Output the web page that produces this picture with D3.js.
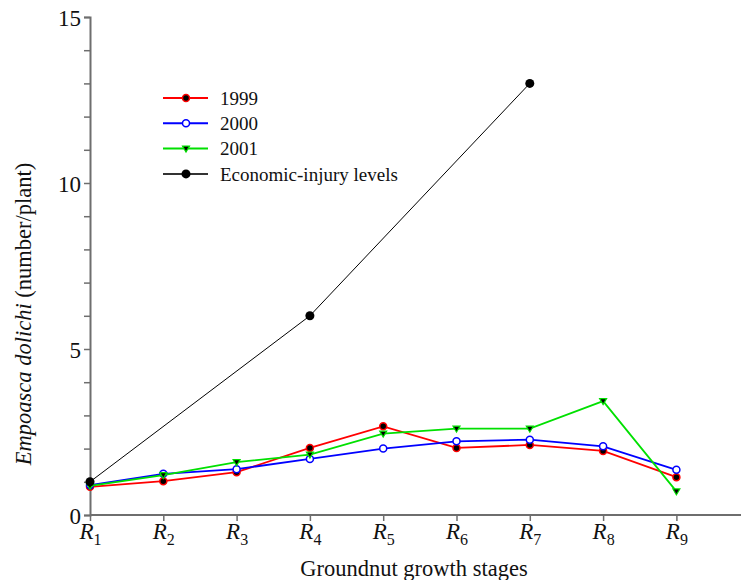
<!DOCTYPE html>
<html>
<head>
<meta charset="utf-8">
<script src="https://cdn.jsdelivr.net/npm/d3@7"></script>
<style>
  body { margin: 0; background: #fff; }
  svg text { font-family: "Liberation Serif", "Times New Roman", serif; fill: #111; }
</style>
</head>
<body>
<svg id="svg-graphic" width="742" height="580"></svg>
<script>
/////////////////////////////////////////////////////////////////////////////////////
// Data
var stages = ["1", "2", "3", "4", "5", "6", "7", "8", "9"];
var y1999 = [0.85, 1.02, 1.29, 2.02, 2.67, 2.02, 2.11, 1.93, 1.14];
var y2000 = [0.90, 1.24, 1.38, 1.69, 2.00, 2.22, 2.27, 2.07, 1.36];
var y2001 = [0.88, 1.20, 1.59, 1.82, 2.45, 2.60, 2.60, 3.43, 0.71];
var eilStages = ["1", "4", "7"];
var eilValues = [1, 6, 13];
var yTickLabels = [0, 5, 10, 15];

/////////////////////////////////////////////////////////////////////////////////////
// Margins
var svg = d3.select("#svg-graphic");
var margin = {left: 90, right: 0, top: 17, bottom: 65};
var w = 742, h = 580;

var xScale = d3.scalePoint()
                .domain(stages.concat(["10"]))
                .range([margin.left, margin.left + 73.3 * 9]);
var yScale = d3.scaleLinear()
                .domain([0, 15])
                .range([h - margin.bottom, margin.top]);

var axisColor = "#6e6e6e";

// y axis
var yAxis = svg.append("g")
   .attr("transform", "translate(" + margin.left + ",0)")
   .call(d3.axisLeft(yScale).tickValues(d3.range(0, 16)).tickSize(6)
          .tickFormat(function(d) { return yTickLabels.indexOf(d) >= 0 ? d : ""; }));
yAxis.select(".domain").attr("stroke", axisColor).attr("stroke-width", 2);
yAxis.selectAll(".tick line").attr("stroke", axisColor).attr("stroke-width", 1.5);
yAxis.selectAll(".tick text").style("font-size", "23px").attr("x", -9).attr("dy", "0.35em");

// x axis
var xAxis = svg.append("g")
   .attr("transform", "translate(0," + yScale(0) + ")")
   .call(d3.axisBottom(xScale).tickValues(stages).tickSize(6).tickFormat(""));
xAxis.select(".domain").attr("stroke", axisColor).attr("stroke-width", 2)
     .attr("d", "M" + margin.left + ",0H" + (w - 1));
xAxis.selectAll(".tick line").attr("stroke", axisColor).attr("stroke-width", 1.5);
var xt = xAxis.selectAll(".tick").append("text")
   .attr("y", 24).attr("text-anchor", "middle").attr("fill", "#111");
xt.append("tspan").style("font-style", "italic").style("font-size", "23px").text("R");
xt.append("tspan").style("font-size", "16px").attr("dy", 6).text(function(d) { return d; });

// axis titles
svg.append("text")
   .attr("x", 414).attr("y", 576)
   .attr("text-anchor", "middle")
   .style("font-size", "22.5px")
   .text("Groundnut growth stages");

var yt = svg.append("text")
   .attr("transform", "translate(31,314) rotate(-90)")
   .attr("text-anchor", "middle")
   .style("font-size", "22.5px");
yt.append("tspan").style("font-style", "italic").text("Empoasca dolichi");
yt.append("tspan").text(" (number/plant)");

/////////////////////////////////////////////////////////////////////////////////////
// Plotting functions
var series = [
  {name: "1999", values: y1999, color: "#ff0000", marker: "dot"},
  {name: "2000", values: y2000, color: "#0000ff", marker: "open"},
  {name: "2001", values: y2001, color: "#00e000", marker: "tri"}
];

var line = d3.line()
   .x(function(d) { return xScale(d.stage); })
   .y(function(d) { return yScale(d.value); });

function drawMarker(g, type, color) {
  if (type == "dot") {
    g.append("circle").attr("r", 3.5).attr("fill", "#000").attr("stroke", color).attr("stroke-width", 1.5);
  } else if (type == "open") {
    g.append("circle").attr("r", 3.5).attr("fill", "#fff").attr("stroke", color).attr("stroke-width", 1.5);
  } else if (type == "tri") {
    g.append("path").attr("d", "M-3.5,-2.5L3.5,-2.5L0,3.5Z").attr("fill", "#000").attr("stroke", color).attr("stroke-width", 1.2);
  } else {
    g.append("circle").attr("r", 4.5).attr("fill", "#000");
  }
}

// economic-injury line
var eil = eilStages.map(function(s, i) { return {stage: s, value: eilValues[i]}; });
svg.append("path").datum(eil).attr("d", line)
   .attr("fill", "none").attr("stroke", "#000").attr("stroke-width", 1);

series.forEach(function(s) {
  var pts = s.values.map(function(v, i) { return {stage: stages[i], value: v}; });
  svg.append("path").datum(pts).attr("d", line)
     .attr("fill", "none").attr("stroke", s.color).attr("stroke-width", 1.8);
  svg.selectAll(null).data(pts).enter().append("g")
     .attr("transform", function(d) { return "translate(" + xScale(d.stage) + "," + yScale(d.value) + ")"; })
     .each(function() { drawMarker(d3.select(this), s.marker, s.color); });
});

svg.selectAll(null).data(eil).enter().append("g")
   .attr("transform", function(d) { return "translate(" + xScale(d.stage) + "," + yScale(d.value) + ")"; })
   .each(function() { drawMarker(d3.select(this), "eil", "#000"); });

// legend
var legendItems = series.concat([{name: "Economic-injury levels", color: "#333", marker: "eil"}]);
var legend = svg.selectAll(".legend").data(legendItems).enter().append("g")
   .attr("class", "legend")
   .attr("transform", function(d, i) { return "translate(163," + (98 + i * 25.3) + ")"; });
legend.append("line").attr("x1", 0).attr("x2", 45)
   .attr("stroke", function(d) { return d.color; }).attr("stroke-width", 2);
legend.each(function(d) {
  var m = d3.select(this).append("g").attr("transform", "translate(23,0)");
  drawMarker(m, d.marker, d.color);
});
legend.append("text").attr("x", 57).attr("dy", "0.35em")
   .style("font-size", "19px")
   .text(function(d) { return d.name; });
</script>
</body>
</html>
